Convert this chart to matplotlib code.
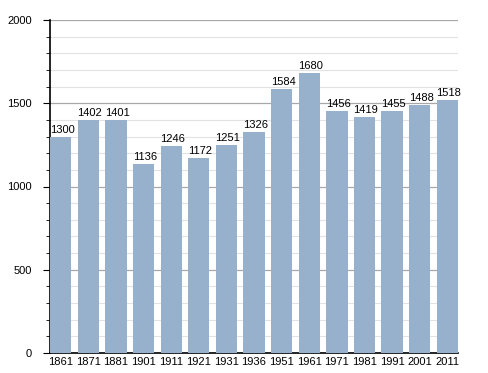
import numpy as np
import matplotlib.pyplot as plt
from matplotlib.ticker import MultipleLocator

years = ['1861', '1871', '1881', '1901', '1911', '1921', '1931', '1936',
         '1951', '1961', '1971', '1981', '1991', '2001', '2011']
population = [1300, 1402, 1401, 1136, 1246, 1172, 1251, 1326,
              1584, 1680, 1456, 1419, 1455, 1488, 1518]

plt.rcParams['font.family'] = ['Liberation Sans', 'DejaVu Sans']

fig = plt.figure(figsize=(4.88, 3.73), dpi=100)
ax = fig.add_axes([0.1025, 0.0536, 0.836, 0.8928])

x = np.arange(len(years))
w = 0.77
ax.bar(x, population, width=w, color='#97b1cc', zorder=3)

# value labels above each bar
for xi, v in zip(x, population):
    ax.text(xi + 0.05, v + 12, str(v), ha='center', va='bottom', fontsize=8, zorder=4)

ax.set_xlim(-w / 2, len(years) - 1 + w / 2)
ax.set_ylim(0, 2000)
ax.set_xticks(x)
ax.set_xticklabels(years, fontsize=8)
ax.tick_params(axis='x', length=0, pad=3)
ax.yaxis.set_major_locator(MultipleLocator(500))
ax.yaxis.set_minor_locator(MultipleLocator(100))
ax.tick_params(axis='y', which='major', length=5, labelsize=8, pad=8)
ax.tick_params(axis='y', which='minor', length=3)

ax.grid(axis='y', which='major', color='#a8a8a8', linewidth=0.9, zorder=0)
ax.grid(axis='y', which='minor', color='#e2e2e2', linewidth=0.8, zorder=0)

for s in ['top', 'right']:
    ax.spines[s].set_visible(False)
ax.spines['left'].set_linewidth(1.2)
ax.spines['bottom'].set_linewidth(1.2)

fig.savefig('out.png', dpi=100)
